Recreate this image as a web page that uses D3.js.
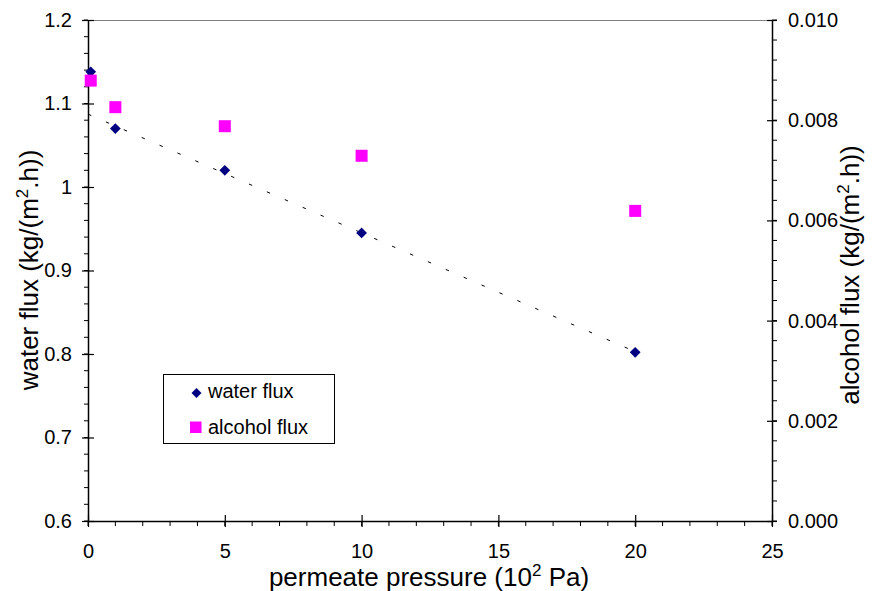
<!DOCTYPE html>
<html>
<head>
<meta charset="utf-8">
<script src="https://cdn.jsdelivr.net/npm/d3@7"></script>
<style>
  body { margin: 0; background: #fff; }
  svg { font-family: "Liberation Sans", Arial, sans-serif; }
</style>
</head>
<body>
<svg id="chart"></svg>
<script>
var width = 873, height = 591;
var margin = {top: 20, right: 101, bottom: 70, left: 88};

// data
var pressure = [0.1, 1, 5, 10, 20];
var waterFlux = [1.138, 1.07, 1.02, 0.945, 0.802];
var alcoholFlux = [0.00879, 0.00826, 0.00788, 0.00729, 0.00619];
var xTicks = [0, 5, 10, 15, 20, 25];
var yLeftTicks = [0.6, 0.7, 0.8, 0.9, 1.0, 1.1, 1.2];
var yRightTicks = [0, 0.002, 0.004, 0.006, 0.008, 0.010];

var svg = d3.select("#chart").attr("width", width).attr("height", height);
var w = width - margin.left - margin.right;
var h = height - margin.top - margin.bottom;
var g = svg.append("g").attr("transform", "translate(" + margin.left + "," + margin.top + ")");

var x = d3.scaleLinear().domain([0, 25]).range([0, w]);
var yL = d3.scaleLinear().domain([0.6, 1.2]).range([h, 0]);
var yR = d3.scaleLinear().domain([0, 0.010]).range([h, 0]);

// top border
g.append("line").attr("x1", 0).attr("x2", w).attr("y1", 0.5).attr("y2", 0.5)
  .attr("stroke", "#808080").attr("stroke-width", 1);

// minor ticks (outside)
var minorX = d3.range(0, 25.001, 1);
var minorL = d3.range(0.6, 1.2001, 0.02);
var minorR = d3.range(0, 0.01001, 0.0004);
g.selectAll(".mx").data(minorX).enter().append("line")
  .attr("x1", d => x(d)).attr("x2", d => x(d)).attr("y1", h).attr("y2", h + 5)
  .attr("stroke", "#000");
g.selectAll(".ml").data(minorL).enter().append("line")
  .attr("x1", -4).attr("x2", 0).attr("y1", d => yL(d)).attr("y2", d => yL(d))
  .attr("stroke", "#000");
g.selectAll(".mr").data(minorR).enter().append("line")
  .attr("x1", w).attr("x2", w + 5).attr("y1", d => yR(d)).attr("y2", d => yR(d))
  .attr("stroke", "#000");

// major ticks cross the axis
function styleAxis(sel) {
  sel.attr("font-size", 20).attr("font-family", "'Liberation Sans', Arial, sans-serif");
  sel.select(".domain").attr("stroke", "#000").attr("stroke-width", 1.5);
  sel.selectAll(".tick line").attr("stroke", "#000").attr("stroke-width", 1.2);
  sel.selectAll(".tick text").attr("fill", "#000");
}

var xAxis = g.append("g").attr("transform", "translate(0," + h + ")")
  .call(d3.axisBottom(x).tickValues(xTicks).tickFormat(d3.format("d"))
    .tickSizeInner(6).tickSizeOuter(0).tickPadding(17));
styleAxis(xAxis);
xAxis.selectAll(".tick line").attr("y1", -6).attr("y2", 6);

var lAxis = g.append("g")
  .call(d3.axisLeft(yL).tickValues(yLeftTicks).tickFormat(d => d === 1 ? "1" : d3.format(".1f")(d))
    .tickSizeInner(6).tickSizeOuter(0).tickPadding(10));
styleAxis(lAxis);
lAxis.selectAll(".tick line").attr("x1", -6).attr("x2", 6);

var rAxis = g.append("g").attr("transform", "translate(" + w + ",0)")
  .call(d3.axisRight(yR).tickValues(yRightTicks).tickFormat(d3.format(".3f"))
    .tickSizeInner(5).tickSizeOuter(0).tickPadding(11));
styleAxis(rAxis);
rAxis.selectAll(".tick line").attr("x1", -5).attr("x2", 5);

// linear trendline of water flux (fitted on the points from 1 upward)
var fit = pressure.map((p, i) => [p, waterFlux[i]]).filter(d => d[0] >= 1);
var mx = d3.mean(fit, d => d[0]), my = d3.mean(fit, d => d[1]);
var slope = d3.sum(fit, d => (d[0] - mx) * (d[1] - my)) / d3.sum(fit, d => (d[0] - mx) * (d[0] - mx));
var icpt = my - slope * mx;
var trendX = [0, d3.max(pressure)];
g.append("path")
  .attr("d", d3.line().x(d => x(d)).y(d => yL(icpt + slope * d))(trendX))
  .attr("fill", "none").attr("stroke", "#000").attr("stroke-width", 1)
  .attr("stroke-dasharray", "3.5,16");

// markers
var diamond = d3.symbol().type(d3.symbolSquare).size(58);
g.selectAll(".water").data(pressure).enter().append("path")
  .attr("d", diamond)
  .attr("transform", (d, i) => "translate(" + x(d) + "," + yL(waterFlux[i]) + ") rotate(45)")
  .attr("fill", "#000080");

var sq = 12;
g.selectAll(".alc").data(pressure).enter().append("rect")
  .attr("x", d => x(d) - sq / 2)
  .attr("y", (d, i) => yR(alcoholFlux[i]) - sq / 2)
  .attr("width", sq).attr("height", sq)
  .attr("fill", "#ff00ff");

// legend
var leg = svg.append("g").attr("transform", "translate(163.5,374.5)");
leg.append("rect").attr("width", 171).attr("height", 69)
  .attr("fill", "#fff").attr("stroke", "#000").attr("stroke-width", 1);
leg.append("path").attr("d", d3.symbol().type(d3.symbolSquare).size(50))
  .attr("transform", "translate(33,18.5) rotate(45)").attr("fill", "#000080");
leg.append("rect").attr("x", 26.5).attr("y", 47).attr("width", 11.5).attr("height", 11.5).attr("fill", "#ff00ff");
leg.append("text").attr("x", 44.5).attr("y", 23).style("font-size", "20px").text("water flux");
leg.append("text").attr("x", 44.5).attr("y", 59.5).style("font-size", "20px").text("alcohol flux");

// axis titles
var xt = svg.append("text").attr("x", 429).attr("y", 586).attr("text-anchor", "middle")
  .style("font-size", "26px");
xt.append("tspan").text("permeate pressure (10");
xt.append("tspan").attr("dy", -10).style("font-size", "17px").text("2");
xt.append("tspan").attr("dy", 10).text(" Pa)");

var yt = svg.append("text").attr("transform", "translate(38,270) rotate(-90)")
  .attr("text-anchor", "middle").style("font-size", "26px");
yt.append("tspan").text("water flux (kg/(m");
yt.append("tspan").attr("dy", -10).style("font-size", "17px").text("2");
yt.append("tspan").attr("dy", 10).text(".h))");

var rt = svg.append("text").attr("transform", "translate(859,275) rotate(-90)")
  .attr("text-anchor", "middle").style("font-size", "26px");
rt.append("tspan").text("alcohol flux (kg/(m");
rt.append("tspan").attr("dy", -10).style("font-size", "17px").text("2");
rt.append("tspan").attr("dy", 10).text(".h))");
</script>
</body>
</html>
